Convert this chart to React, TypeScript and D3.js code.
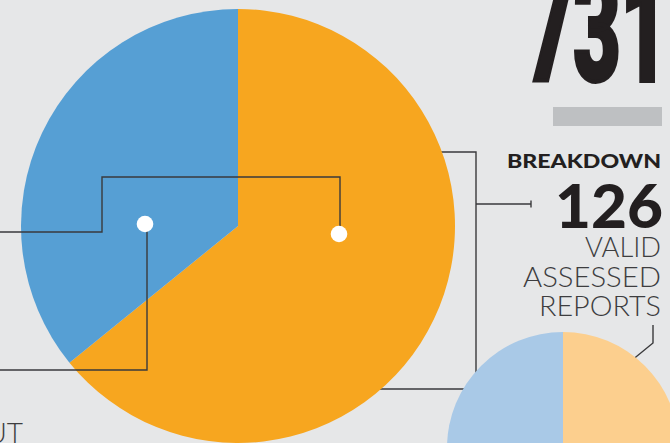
import React from "react";
import * as d3 from "d3";

// ---- data ----
const mainCategories = ["Other reports", "Breakdown group"];
const mainValues = [469, 262]; // orange, blue
const mainColors = ["#f7a61f", "#569fd4"];
const totalLabel = "731";

const subCategories = ["Group A", "Group B"];
const subValues = [63, 63]; // light orange, light blue
const subColors = ["#fccf8e", "#a9c9e7"];

const breakdownTitle = "BREAKDOWN";
const breakdownValue = "126";
const breakdownLines = ["VALID", "ASSESSED", "REPORTS"];
const bottomLabel = "ABOUT";

const W = 670;
const H = 443;
const BG = "#e6e7e8";
const INK = "#231f20";
const LINE = "#3a3a3c";

export default function App() {
  const mainC = { x: 238, y: 226, r: 217 };
  const subC = { x: 563, y: 448, r: 116 };

  const pie = d3.pie<number>().sort(null).value((d) => d);
  const mainArcs = pie(mainValues);
  const subArcs = pie(subValues);
  const mainArc = d3.arc<d3.PieArcDatum<number>>().innerRadius(0).outerRadius(mainC.r);
  const subArc = d3.arc<d3.PieArcDatum<number>>().innerRadius(0).outerRadius(subC.r);

  const lineProps = { stroke: LINE, strokeWidth: 1.4, fill: "none" };

  return (
    <svg
      width={W}
      height={H}
      viewBox={`0 0 ${W} ${H}`}
      style={{ position: "fixed", left: 0, top: 0, display: "block", background: BG }}
    >
      <rect x={0} y={0} width={W} height={H} fill={BG} />

      {/* bracket lines beneath pies */}
      <path d="M 400 152 H 476 V 389 H 380" {...lineProps} />
      <path d="M 476 204 H 531 M 531 200.5 V 207.5" {...lineProps} />
      <path d="M 653 325 V 343 L 620 370" {...lineProps} />

      {/* main pie */}
      <g transform={`translate(${mainC.x},${mainC.y})`}>
        {mainArcs.map((a, i) => (
          <path key={mainCategories[i]} d={mainArc(a) || ""} fill={mainColors[i]} />
        ))}
      </g>

      {/* sub pie */}
      <g transform={`translate(${subC.x},${subC.y})`}>
        {subArcs.map((a, i) => (
          <path key={subCategories[i]} d={subArc(a) || ""} fill={subColors[i]} />
        ))}
      </g>

      {/* annotation leaders on main pie */}
      <path d="M 0 232 H 102 V 177 H 340 V 226" {...lineProps} />
      <path d="M 147 226 V 370 H 0" {...lineProps} />
      <circle cx={339} cy={234} r={8.3} fill="#ffffff" />
      <circle cx={145} cy={224} r={8.3} fill="#ffffff" />

      {/* big total */}
      <g transform="translate(668,81) scale(0.56,1)">
        <text
          x={0}
          y={0}
          textAnchor="end"
          fontFamily="Roboto, 'DejaVu Sans Condensed', sans-serif"
          fontWeight={900}
          fontSize={146}
          fill={INK}
          stroke={INK}
          strokeWidth={4}
        >
          {totalLabel}
        </text>
      </g>
      <rect x={553} y={107} width={109} height={19} fill="#bec0c2" />

      {/* breakdown block */}
      <text
        x={507}
        y={168}
        fontFamily="Lato, 'Open Sans', sans-serif"
        fontWeight={900}
        fontSize={18}
        fill={INK}
        textLength={154}
        lengthAdjust="spacingAndGlyphs"
      >
        {breakdownTitle}
      </text>
      <text
        x={555}
        y={228}
        fontFamily="Lato, 'Open Sans', sans-serif"
        fontWeight={900}
        fontSize={60}
        fill={INK}
        textLength={108}
        lengthAdjust="spacingAndGlyphs"
      >
        {breakdownValue}
      </text>
      {breakdownLines.map((t, i) => {
        const ys = [257, 287, 316];
        const xs = [585, 523, 539];
        return (
          <text
            key={t}
            x={xs[i]}
            y={ys[i]}
            fontFamily="Lato, Roboto, sans-serif"
            fontWeight={300}
            fontSize={27}
            fill="#3d3d3f"
            textLength={661 - xs[i]}
            lengthAdjust="spacingAndGlyphs"
          >
            {t}
          </text>
        );
      })}

      {/* bottom-left label (cut off) */}
      <text
        x={23}
        y={443}
        textAnchor="end"
        fontFamily="Lato, Roboto, sans-serif"
        fontWeight={300}
        fontSize={28}
        fill="#3d3d3f"
      >
        {bottomLabel}
      </text>
    </svg>
  );
}
